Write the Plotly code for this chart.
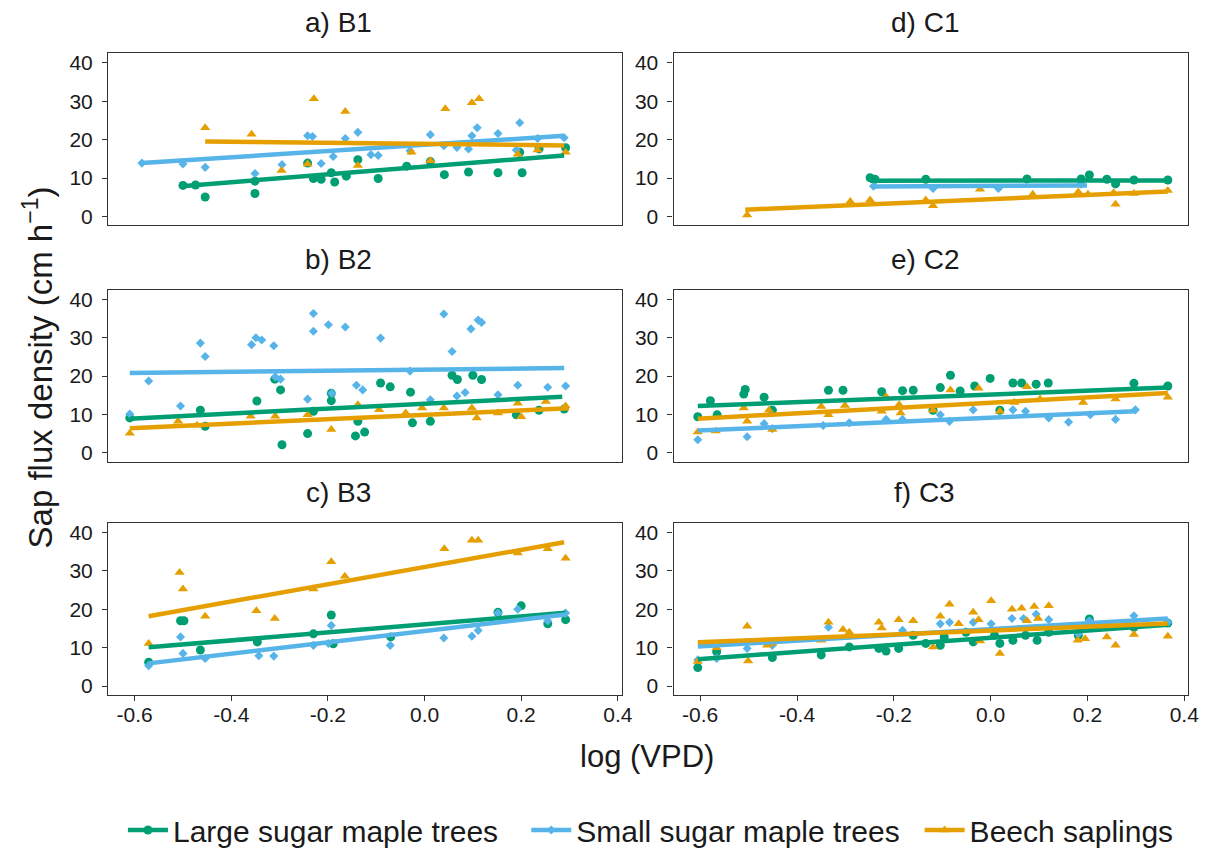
import plotly.graph_objects as go

# ---------------- data ----------------
series_names = ["Large sugar maple trees", "Small sugar maple trees", "Beech saplings"]
panel_titles = ["a) B1", "b) B2", "c) B3", "d) C1", "e) C2", "f) C3"]
x_ticks = [-0.6, -0.4, -0.2, 0.0, 0.2, 0.4]
y_ticks = [0, 10, 20, 30, 40]

# Panel a) B1
B1_large_x = [-0.500, -0.474, -0.454, -0.351, -0.351, -0.242, -0.230, -0.214, -0.193, -0.186, -0.162, -0.138, -0.096, -0.037, 0.012, 0.041, 0.091, 0.152, 0.202, 0.197, 0.237, 0.292]
B1_large_y = [8.1, 8.2, 5.1, 6.0, 9.2, 13.9, 9.9, 9.7, 11.4, 9.0, 10.5, 14.8, 9.9, 13.1, 14.3, 10.9, 11.6, 11.4, 11.4, 16.7, 17.6, 17.9]
B1_small_x = [-0.585, -0.500, -0.454, -0.351, -0.295, -0.242, -0.232, -0.214, -0.189, -0.164, -0.138, -0.111, -0.096, -0.030, 0.012, 0.040, 0.067, 0.091, 0.098, 0.109, 0.152, 0.197, 0.234, 0.289, 0.190]
B1_small_y = [13.9, 13.7, 12.8, 11.2, 13.5, 21.0, 20.8, 13.8, 15.6, 20.3, 21.9, 16.1, 15.9, 17.1, 21.3, 18.4, 18.0, 17.6, 21.0, 23.1, 21.6, 24.4, 20.3, 20.5, 17.3]
B1_beech_x = [-0.454, -0.358, -0.229, -0.164, 0.043, 0.098, 0.113, -0.027, -0.296, -0.242, -0.138, 0.012, 0.193, 0.234, 0.292]
B1_beech_y = [23.1, 21.4, 30.6, 27.3, 28.0, 29.6, 30.6, 16.7, 12.0, 13.7, 13.3, 14.5, 16.2, 17.3, 16.7]

# Panel b) B2
B2_large_x = [-0.610, -0.464, -0.454, -0.347, -0.310, -0.298, -0.295, -0.242, -0.230, -0.193, -0.193, -0.143, -0.138, -0.124, -0.091, -0.071, -0.029, -0.025, 0.012, 0.057, 0.068, 0.100, 0.118, 0.190, 0.237, 0.289]
B2_large_y = [9.1, 11.1, 6.9, 13.5, 19.2, 16.4, 2.1, 5.0, 10.8, 15.5, 13.6, 4.4, 8.2, 5.4, 18.2, 17.2, 15.8, 7.8, 8.2, 20.2, 19.1, 20.2, 19.1, 9.9, 11.1, 11.4]
B2_small_x = [-0.610, -0.571, -0.505, -0.464, -0.454, -0.358, -0.349, -0.337, -0.312, -0.309, -0.298, -0.242, -0.230, -0.230, -0.199, -0.192, -0.164, -0.141, -0.128, -0.091, -0.030, 0.012, 0.040, 0.057, 0.067, 0.084, 0.096, 0.111, 0.118, 0.152, 0.193, 0.255, 0.292]
B2_small_y = [10.1, 18.7, 12.2, 28.6, 25.1, 28.2, 30.0, 29.4, 27.9, 19.8, 19.2, 14.0, 36.3, 31.7, 33.4, 15.5, 32.8, 17.6, 16.4, 29.9, 21.3, 13.8, 36.2, 26.4, 14.8, 15.7, 32.3, 34.6, 34.0, 15.1, 17.6, 17.1, 17.4]
B2_beech_x = [-0.610, -0.510, -0.471, -0.360, -0.309, -0.242, -0.193, -0.138, -0.094, -0.039, -0.005, 0.040, 0.098, 0.108, 0.152, 0.193, 0.200, 0.251, 0.292]
B2_beech_y = [5.1, 8.2, 7.2, 9.5, 9.5, 9.9, 6.1, 12.5, 11.2, 10.4, 11.7, 11.7, 11.7, 9.1, 10.4, 12.9, 9.4, 13.4, 12.2]

# Panel c) B3
B3_large_x = [-0.571, -0.505, -0.498, -0.464, -0.346, -0.230, -0.193, -0.189, -0.070, 0.152, 0.200, 0.255, 0.292]
B3_large_y = [6.2, 17.0, 17.0, 9.4, 11.5, 13.6, 18.5, 11.0, 12.8, 19.2, 20.9, 16.2, 17.3]
B3_small_x = [-0.571, -0.505, -0.500, -0.454, -0.343, -0.312, -0.230, -0.193, -0.199, -0.071, 0.040, 0.098, 0.111, 0.152, 0.193, 0.255, 0.292]
B3_small_y = [5.3, 12.8, 8.5, 7.2, 7.9, 7.8, 10.6, 15.8, 11.1, 10.6, 12.5, 13.0, 14.5, 19.0, 20.0, 17.0, 19.0]
B3_beech_x = [-0.571, -0.507, -0.500, -0.454, -0.348, -0.310, -0.230, -0.193, -0.165, 0.041, 0.098, 0.111, 0.193, 0.255, 0.292]
B3_beech_y = [11.1, 29.6, 25.3, 18.2, 19.6, 17.6, 25.3, 32.4, 28.6, 35.8, 38.0, 38.0, 34.7, 35.8, 33.3]

# Panel d) C1
C1_large_x = [-0.249, -0.239, -0.134, 0.075, 0.187, 0.204, 0.240, 0.258, 0.296, 0.366]
C1_large_y = [10.1, 9.7, 9.7, 9.8, 9.8, 10.8, 9.7, 8.5, 9.5, 9.5]
C1_small_x = [-0.242, -0.119, 0.016, 0.187]
C1_small_y = [7.9, 7.3, 7.3, 8.4]
C1_beech_x = [-0.503, -0.290, -0.249, -0.134, -0.119, -0.022, 0.087, 0.181, 0.201, 0.254, 0.258, 0.296, 0.366]
C1_beech_y = [0.4, 3.9, 4.3, 4.3, 2.8, 7.1, 5.8, 6.4, 5.8, 6.2, 3.2, 6.0, 6.8]

# Panel e) C2
C2_large_x = [-0.605, -0.579, -0.565, -0.510, -0.507, -0.468, -0.451, -0.335, -0.305, -0.225, -0.182, -0.160, -0.119, -0.104, -0.083, -0.063, -0.033, -0.001, 0.019, 0.046, 0.064, 0.094, 0.119, 0.296, 0.366]
C2_large_y = [9.4, 13.6, 9.9, 15.3, 16.5, 14.5, 11.1, 16.3, 16.3, 15.9, 16.2, 16.3, 11.1, 17.0, 20.2, 16.1, 17.4, 19.4, 11.1, 18.2, 18.2, 17.9, 18.2, 18.1, 17.4]
C2_small_x = [-0.605, -0.503, -0.468, -0.451, -0.346, -0.292, -0.216, -0.182, -0.104, -0.085, -0.036, 0.046, 0.072, 0.120, 0.161, 0.206, 0.258, 0.299]
C2_small_y = [3.4, 4.2, 7.6, 6.3, 7.1, 7.8, 8.7, 8.7, 9.9, 8.2, 11.2, 11.2, 10.8, 9.1, 8.0, 9.9, 8.7, 11.2]
C2_beech_x = [-0.605, -0.568, -0.510, -0.503, -0.458, -0.451, -0.350, -0.335, -0.301, -0.225, -0.216, -0.189, -0.186, -0.119, -0.083, -0.025, 0.019, 0.049, 0.075, 0.102, 0.191, 0.258, 0.366]
C2_beech_y = [5.4, 5.7, 11.7, 8.2, 11.1, 6.1, 12.1, 9.9, 12.3, 10.8, 14.6, 12.5, 10.4, 11.1, 16.4, 16.8, 10.8, 13.1, 17.2, 14.0, 13.1, 14.0, 14.5]

# Panel f) C3
C3_large_x = [-0.605, -0.566, -0.451, -0.350, -0.292, -0.231, -0.216, -0.190, -0.160, -0.134, -0.104, -0.096, -0.051, -0.036, 0.008, 0.019, 0.046, 0.072, 0.096, 0.120, 0.181, 0.204, 0.296, 0.366]
C3_large_y = [4.8, 8.9, 7.4, 8.1, 10.2, 9.8, 9.1, 9.8, 13.2, 11.1, 10.6, 12.8, 14.0, 11.5, 13.2, 11.1, 11.9, 13.2, 11.9, 14.0, 13.2, 17.5, 15.3, 16.4]
C3_small_x = [-0.605, -0.566, -0.503, -0.451, -0.335, -0.292, -0.182, -0.104, -0.085, -0.036, 0.001, 0.044, 0.068, 0.094, 0.120, 0.181, 0.204, 0.296, 0.366]
C3_small_y = [6.8, 7.2, 9.8, 10.6, 15.3, 13.2, 14.5, 16.2, 16.6, 16.6, 16.2, 17.6, 17.6, 18.7, 17.3, 13.6, 17.0, 18.3, 16.6]
C3_beech_x = [-0.605, -0.566, -0.503, -0.501, -0.462, -0.451, -0.350, -0.335, -0.305, -0.292, -0.231, -0.225, -0.190, -0.160, -0.119, -0.104, -0.085, -0.066, -0.036, -0.025, -0.022, 0.001, 0.019, 0.044, 0.064, 0.075, 0.090, 0.098, 0.120, 0.180, 0.195, 0.240, 0.258, 0.296, 0.366]
C3_beech_y = [6.4, 10.0, 15.6, 6.5, 10.6, 11.1, 11.9, 16.6, 14.7, 14.0, 16.6, 15.1, 17.3, 17.0, 10.2, 18.2, 21.3, 16.2, 19.2, 17.3, 11.7, 22.2, 8.5, 20.0, 20.3, 17.0, 20.7, 17.6, 20.9, 11.9, 12.3, 12.8, 10.6, 13.4, 13.0]

# Fitted lines: [x start, x end, y start, y end]
B1_fit = [[-0.503, 0.289, 7.9, 15.9], [-0.585, 0.289, 13.9, 21.0], [-0.454, 0.289, 19.5, 18.5]]
B2_fit = [[-0.610, 0.285, 8.9, 14.6], [-0.610, 0.289, 20.8, 22.1], [-0.610, 0.299, 6.4, 11.6]]
B3_fit = [[-0.571, 0.292, 10.1, 19.1], [-0.571, 0.296, 5.9, 18.7], [-0.571, 0.289, 18.2, 37.5]]
C1_fit = [[-0.249, 0.366, 9.3, 9.4], [-0.242, 0.199, 7.8, 8.1], [-0.507, 0.366, 1.8, 6.5]]
C2_fit = [[-0.605, 0.366, 12.2, 17.0], [-0.605, 0.299, 5.8, 10.8], [-0.605, 0.366, 8.9, 15.6]]
C3_fit = [[-0.605, 0.366, 7.0, 16.0], [-0.605, 0.366, 10.3, 17.6], [-0.605, 0.366, 11.4, 16.3]]

# ---------------- styling ----------------
colors = ["#009E73", "#56B4E9", "#E69F00"]
symbols = ["circle", "diamond", "triangle-up"]
msizes = [9, 7, 9]
FONT = "Liberation Sans, Arial, sans-serif"
TXT = "#1a1a1a"

W, H = 1208, 848
col_px = [(101, 619.3), (671.7, 1191)]
row_px = [(44, 218), (283.5, 457), (519.5, 693)]
title_cx = [334, 925]
legend_left_px = [116, 523, 920]

panels = [
    (B1_large_x, B1_large_y, B1_small_x, B1_small_y, B1_beech_x, B1_beech_y, B1_fit),
    (B2_large_x, B2_large_y, B2_small_x, B2_small_y, B2_beech_x, B2_beech_y, B2_fit),
    (B3_large_x, B3_large_y, B3_small_x, B3_small_y, B3_beech_x, B3_beech_y, B3_fit),
    (C1_large_x, C1_large_y, C1_small_x, C1_small_y, C1_beech_x, C1_beech_y, C1_fit),
    (C2_large_x, C2_large_y, C2_small_x, C2_small_y, C2_beech_x, C2_beech_y, C2_fit),
    (C3_large_x, C3_large_y, C3_small_x, C3_small_y, C3_beech_x, C3_beech_y, C3_fit),
]

fig = go.Figure()
layout = {}
annotations = []

for i, p in enumerate(panels):
    col, row = i // 3, i % 3
    n = i + 1
    xa = "x" if n == 1 else f"x{n}"
    ya = "y" if n == 1 else f"y{n}"
    xs = [p[0], p[2], p[4]]
    ys = [p[1], p[3], p[5]]
    fits = p[6]
    for s in range(3):
        fig.add_trace(go.Scatter(
            x=xs[s], y=ys[s], mode="markers", xaxis=xa, yaxis=ya,
            marker=dict(color=colors[s], symbol=symbols[s], size=msizes[s], line=dict(width=0)),
            showlegend=False, hoverinfo="x+y"))
    for s in range(3):
        f = fits[s]
        fig.add_trace(go.Scatter(
            x=[f[0], f[1]], y=[f[2], f[3]], mode="lines", xaxis=xa, yaxis=ya,
            line=dict(color=colors[s], width=4.5), showlegend=False, hoverinfo="skip"))

    x0, x1 = col_px[col]
    y0, y1 = row_px[row]
    bottom = row == 2
    layout["xaxis" if n == 1 else f"xaxis{n}"] = dict(
        domain=[x0 / W, x1 / W], anchor=ya, range=[-0.655, 0.408],
        tickvals=x_ticks, ticktext=[f"{v:.1f}" for v in x_ticks],
        showticklabels=bottom, ticks="outside" if bottom else "", ticklen=5,
        tickcolor="#333333", tickwidth=1, ticklabelstandoff=-4,
        showline=True, mirror=True, linecolor="#333333", linewidth=1.2,
        showgrid=False, zeroline=False,
        tickfont=dict(family=FONT, size=21, color=TXT))
    layout["yaxis" if n == 1 else f"yaxis{n}"] = dict(
        domain=[1 - y1 / H, 1 - y0 / H], anchor=xa, range=[-2.3, 42.4],
        tickvals=y_ticks, ticks="outside", ticklen=5, tickcolor="#333333", tickwidth=1,
        ticklabelstandoff=5,
        showline=True, mirror=True, linecolor="#333333", linewidth=1.2,
        showgrid=False, zeroline=False,
        tickfont=dict(family=FONT, size=21, color=TXT))
    annotations.append(dict(
        text=panel_titles[i], x=title_cx[col] / W, y=1 - (y0 - 31) / H,
        xref="paper", yref="paper", xanchor="center", yanchor="middle",
        showarrow=False, font=dict(family=FONT, size=28, color=TXT)))

# legend entries: one legend box per series, laid out in a row
legend_ids = ["legend", "legend2", "legend3"]
for s in range(3):
    fig.add_trace(go.Scatter(
        x=[None], y=[None], mode="lines+markers", name=series_names[s],
        legend=legend_ids[s],
        line=dict(color=colors[s], width=4.5),
        marker=dict(color=colors[s], symbol=symbols[s], size=msizes[s])))
    layout[legend_ids[s]] = dict(
        orientation="h", x=legend_left_px[s] / W, y=1 - 830 / H,
        xanchor="left", yanchor="middle",
        font=dict(family=FONT, size=30, color=TXT), itemwidth=40,
        bgcolor="rgba(0,0,0,0)")

annotations.append(dict(
    text="log (VPD)", x=645 / W, y=1 - 755 / H, xref="paper", yref="paper",
    xanchor="center", yanchor="middle", showarrow=False,
    font=dict(family=FONT, size=31, color=TXT)))
annotations.append(dict(
    text="Sap flux density (cm h<sup>\u22121</sup>)", x=30 / W, y=1 - 362 / H,
    xref="paper", yref="paper", xanchor="center", yanchor="middle",
    textangle=-90, showarrow=False, font=dict(family=FONT, size=33, color=TXT)))

fig.update_layout(
    width=W, height=H, margin=dict(l=0, r=0, t=0, b=0),
    paper_bgcolor="white", plot_bgcolor="white",
    annotations=annotations,
    **layout)

fig.write_html("out.html")
